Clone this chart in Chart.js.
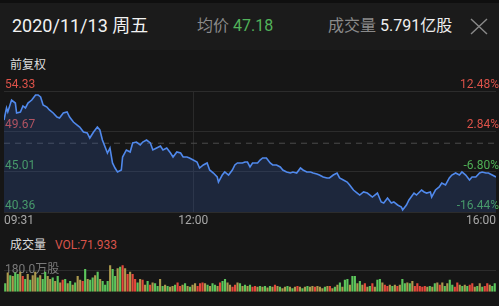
<!DOCTYPE html>
<html><head><meta charset="utf-8">
<script src="https://cdn.jsdelivr.net/npm/chart.js@4.4.0/dist/chart.umd.min.js"></script>
<style>
html,body{margin:0;padding:0;background:#161616;width:499px;height:306px;overflow:hidden;font-family:Roboto,"Noto Sans CJK SC",sans-serif;}
#hdr{position:absolute;left:0;top:0;width:499px;height:50px;background:#1b1b1b;border-top:3px solid #0f0f0f;box-sizing:border-box;}
.t{position:absolute;white-space:nowrap;line-height:1;}
canvas{position:absolute;left:0;}
</style></head><body>
<div id="hdr"></div>
<div class="t" style="left:12px;top:17px;font-size:18px;color:#f2f2f2">2020/11/13 周五</div>
<div class="t" style="left:197px;top:18px;font-size:16px;color:#8a8a8a">均价 <span style="color:#52b35a">47.18</span></div>
<div class="t" style="left:328px;top:18px;font-size:16px;color:#8a8a8a">成交量 <span style="color:#eeeeee">5.791亿股</span></div>
<svg style="position:absolute;left:470px;top:18px" width="18" height="17"><path d="M1 1 L17 16 M17 1 L1 16" stroke="#8a8a8a" stroke-width="1.4" fill="none"/></svg>
<div class="t" style="left:10px;top:59px;font-size:12px;color:#dddddd">前复权</div>
<div class="t" style="left:10px;top:239px;font-size:12px;color:#dddddd">成交量</div>
<div class="t" style="left:55px;top:239px;font-size:12px;color:#d9544b">VOL:71.933</div>
<canvas id="price" width="499" height="155" style="top:70px"></canvas>
<canvas id="vol" width="499" height="50" style="top:250px"></canvas>
<script>
const prevClose = 48.30;
const priceTicks = [40.36, 45.01, 49.67, 54.33];
const priceTickLabels = ['40.36', '45.01', '49.67', '54.33'];
const pctLabels = ['-16.44%', '-6.80%', '2.84%', '12.48%'];
const timeTicks = [0, 150, 390];
const timeLabels = ['09:31', '12:00', '16:00'];

const minutes = [0,2,3,6,9,10,13,15,17,19,22,25,27,29,31,34,36,39,42,44,47,50,52,55,58,60,63,66,68,71,74,76,78,82,84,86,88,90,93,94,97,100,102,105,108,110,113,116,118,121,124,126,129,132,134,137,140,142,145,147,150,153,155,158,161,163,166,169,170,173,175,178,181,183,185,189,191,193,195,197,201,203,205,208,211,213,216,219,221,224,227,229,232,235,237,240,243,245,248,250,253,256,258,261,264,266,269,272,274,277,280,282,285,288,292,296,299,301,304,307,309,312,315,316,319,321,325,327,331,333,335,338,339,342,345,347,350,353,355,358,361,363,366,369,371,374,377,379,382,384,387,390];
const prices = [50.98,52.37,51.91,53.29,52.94,51.79,51.91,52.60,52.37,52.94,53.29,53.87,53.87,53.64,52.71,52.48,52.14,51.79,51.33,51.21,51.79,51.91,51.33,50.75,50.40,50.17,49.60,49.48,48.90,49.60,50.17,49.83,48.67,47.17,47.75,46.02,45.44,44.98,45.21,46.71,47.52,47.29,48.33,48.44,48.10,48.44,48.67,48.33,47.52,47.75,47.98,47.52,47.75,47.17,46.71,47.29,47.17,46.71,46.71,46.60,46.36,46.13,45.44,45.79,46.02,45.21,44.86,44.40,43.82,44.63,44.98,44.63,45.21,45.79,46.02,46.02,46.13,46.13,45.56,46.02,46.02,46.36,46.60,46.60,46.02,45.79,45.79,45.56,45.21,44.98,44.86,44.98,44.86,45.44,45.21,44.98,44.98,44.86,44.75,44.63,44.40,44.29,44.29,44.63,44.86,44.29,44.05,43.82,43.48,42.90,42.55,42.32,42.67,42.55,42.09,42.55,41.52,41.40,41.98,41.40,41.52,41.17,40.94,40.59,41.17,41.75,42.55,42.32,42.90,42.67,42.55,42.67,42.09,42.90,43.25,43.71,43.48,44.29,44.63,44.86,44.63,44.98,44.63,44.05,44.40,44.40,44.86,44.98,44.86,44.86,44.63,44.40];

const volumes = [
72,162,138,132,162,150,168,132,108,150,102,138,168,120,138,108,168,132,108,120,90,132,78,102,108,72,90,60,78,132,102,90,192,108,102,120,138,168,108,90,60,90,222,192,132,198,210,222,198,150,168,150,108,78,108,102,60,90,60,78,72,48,108,48,60,48,42,
48,60,78,48,60,72,48,42,60,72,48,72,78,72,60,48,72,60,48,78,90,108,78,60,42,60,78,72,48,60,48,60,42,48,42,48,42,48,36,48,42,60,48,42,30,42,48,42,30,42,48,42,30,42,48,42,48,42,48,42,30,42,48,
48,30,42,60,78,42,102,108,60,132,132,72,90,60,72,42,48,72,42,102,108,78,60,48,60,48,60,48,60,108,72,78,72,90,48,72,48,42,48,42,48,42,72,78,60,78,48,72,102,60,42,78,60,48,60,48,60,72,42,48,72,42,48,72,60,48,72];
const volTones = (
'gogoggorgo'+'googoggoog'+'ogorgogogo'+'orgoggogog'+'ggoggogror'+'orrgorogro'+'ggogogo'+
'ogrrogogoo'+'rrrogoggor'+'ggoorrogog'+'ogrrogogog'+'orogoogogo'+'rogogooroo'+'ogo'+
'rogogoggog'+'gogorogrog'+'gorrogorog'+'gogorrrrro'+'gogorogogg'+'rrogogrrog'+'ogrrogg').split('');
const volTicks = [180];
const volTickLabels = ['180.0万股'];

const toneColor = {r:'#e5493b', g:'#5cc65c', o:'#ad9a4e'};
const FONT = 'Roboto, "Noto Sans CJK SC", sans-serif';

new Chart(document.getElementById('price'), {
  type: 'line',
  data: {
    datasets: [
      {
        data: minutes.map((m, i) => ({x: m, y: prices[i]})),
        borderColor: '#5089ec',
        borderWidth: 1.6,
        backgroundColor: 'rgba(52,88,170,0.26)',
        fill: 'start',
        pointRadius: 0,
        tension: 0,
        order: 1
      },
      {
        data: [{x: 0, y: prevClose}, {x: 390, y: prevClose}],
        borderColor: '#4c4c4c',
        borderWidth: 1,
        borderDash: [6, 5],
        pointRadius: 0,
        fill: false,
        order: 2
      }
    ]
  },
  options: {
    responsive: false,
    animation: false,
    layout: {padding: {top: 21, left: 4, right: 3, bottom: 0}},
    plugins: {legend: {display: false}, tooltip: {enabled: false}},
    scales: {
      x: {
        type: 'linear', min: 0, max: 390,
        afterBuildTicks: s => { s.ticks = timeTicks.map(v => ({value: v})); },
        afterFit: s => { s.height = 13; },
        grid: {color: c => (c.tick && c.tick.value === 150) ? '#2a2a2a' : 'rgba(0,0,0,0)', drawTicks: false},
        border: {display: false},
        ticks: {
          align: 'inner', padding: 2, color: '#a8a8a8', font: {family: FONT, size: 12},
          callback: (v) => timeLabels[timeTicks.indexOf(v)]
        }
      },
      y: {
        position: 'left', min: 40.36, max: 54.33,
        afterBuildTicks: s => { s.ticks = priceTicks.map(v => ({value: v})); },
        afterFit: s => { s.width = 0; },
        grid: {color: '#2c2c2c', drawTicks: false},
        border: {display: false},
        ticks: {
          mirror: true, padding: 1, labelOffset: -6,
          font: {family: FONT, size: 12},
          color: c => c.tick.value > prevClose ? '#dc5249' : '#4fb055',
          callback: (v) => priceTickLabels[priceTicks.indexOf(v)]
        }
      },
      y2: {
        position: 'right', min: 40.36, max: 54.33,
        afterBuildTicks: s => { s.ticks = priceTicks.map(v => ({value: v})); },
        afterFit: s => { s.width = 0; },
        grid: {display: false, drawTicks: false},
        border: {display: false},
        ticks: {
          mirror: true, padding: 3, labelOffset: -6,
          font: {family: FONT, size: 12},
          color: c => c.tick.value > prevClose ? '#dc5249' : '#4fb055',
          callback: (v) => pctLabels[priceTicks.indexOf(v)]
        }
      }
    }
  }
});

new Chart(document.getElementById('vol'), {
  type: 'bar',
  data: {
    labels: volumes.map((_, i) => i),
    datasets: [{
      data: volumes,
      backgroundColor: volTones.map(t => toneColor[t] || toneColor.o),
      borderWidth: 0,
      barPercentage: 0.85,
      categoryPercentage: 1.0
    }]
  },
  options: {
    responsive: false,
    animation: false,
    layout: {padding: {top: 0, left: 4, right: 3, bottom: 3}},
    plugins: {legend: {display: false}, tooltip: {enabled: false}},
    scales: {
      x: {display: false},
      y: {
        min: 0, max: 282,
        afterBuildTicks: s => { s.ticks = volTicks.map(v => ({value: v})); },
        afterFit: s => { s.width = 0; },
        grid: {color: '#2c2c2c', drawTicks: false},
        border: {display: false},
        ticks: {
          mirror: true, padding: 1, color: '#7a7a7a',
          font: {family: FONT, size: 12},
          callback: (v) => volTickLabels[volTicks.indexOf(v)]
        }
      }
    }
  }
});
</script>
</body></html>
